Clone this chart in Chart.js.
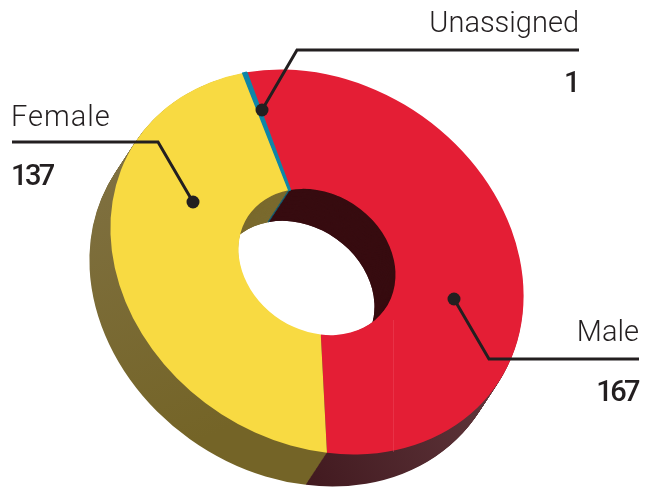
<!DOCTYPE html>
<html>
<head>
<meta charset="utf-8">
<title>Gender split</title>
<script src="https://cdn.jsdelivr.net/npm/chart.js"></script>
<style>
  html, body { margin: 0; padding: 0; background: #fff; }
  #wrap { position: relative; width: 657px; height: 487px; overflow: hidden; }
  canvas { position: absolute; left: 0; top: 0; }
  .lbl, .num { position: absolute; color: #231f20; font-family: Roboto, sans-serif; white-space: nowrap; line-height: 1; }
  .lbl { font-size: 29px; font-weight: 300; }
  .num { font-size: 29px; font-weight: 500; letter-spacing: -2.6px; }
</style>
</head>
<body>
<div id="wrap">
  <canvas id="donut" width="657" height="487"></canvas>
  <div class="lbl" style="right:78px;top:8px">Unassigned</div>
  <div class="num" style="right:79px;top:68px">1</div>
  <div class="lbl" style="left:11px;top:102px;letter-spacing:1px">Female</div>
  <div class="num" style="left:11px;top:161px">137</div>
  <div class="lbl" style="right:18px;top:317px">Male</div>
  <div class="num" style="right:19px;top:377px">167</div>
</div>
<script>
const labels = ['Male', 'Female', 'Unassigned'];
const values = [167, 137, 1];
const faceColors = ['#e41e35', '#f8da42', '#0f86a8'];
const outerWall = ['red', '#76662b', '#76662b'];
const innerWall = ['#370c10', '#7a6a2e', '#0f5f78'];

// top face is a tilted ellipse, depth goes down and to the left
const FACE = { x: 317, y: 262, a: 217.7, b: 179.8, tilt: 34 * Math.PI / 180 };
const DEPTH = { x: -21, y: 32, steps: 40 };

function applyFace(ctx, arc, dx, dy) {
  ctx.translate(FACE.x + dx, FACE.y + dy);
  ctx.rotate(FACE.tilt);
  ctx.scale(FACE.a / arc.outerRadius, FACE.b / arc.outerRadius);
  ctx.translate(-arc.x, -arc.y);
}

function sectorPath(ctx, arc) {
  ctx.beginPath();
  ctx.arc(arc.x, arc.y, arc.outerRadius, arc.startAngle, arc.endAngle);
  ctx.arc(arc.x, arc.y, arc.innerRadius, arc.endAngle, arc.startAngle, true);
  ctx.closePath();
}

const tiltPlugin = {
  id: 'tilt',
  beforeDatasetsDraw(chart) {
    const ctx = chart.ctx;
    const arcs = chart.getDatasetMeta(0).data;
    const dpr = chart.currentDevicePixelRatio;

    const redSide = ctx.createLinearGradient(310, 480, 490, 400);
    redSide.addColorStop(0, '#421a20');
    redSide.addColorStop(1, '#5e353a');
    const olive = ctx.createLinearGradient(90, 180, 200, 440);
    olive.addColorStop(0, '#7f7040');
    olive.addColorStop(1, '#746427');

    const paintLayers = (colors) => {
      for (let k = DEPTH.steps; k >= 1; k--) {
        const t = k / DEPTH.steps;
        arcs.forEach((arc, i) => {
          ctx.save();
          applyFace(ctx, arc, DEPTH.x * t, DEPTH.y * t);
          sectorPath(ctx, arc);
          ctx.setTransform(dpr, 0, 0, dpr, 0, 0);
          const c = colors[i];
          ctx.fillStyle = c === 'red' ? redSide : (i === 1 && colors === outerWall ? olive : c);
          ctx.fill();
          ctx.restore();
        });
      }
    };

    // outside wall
    paintLayers(outerWall);

    // wall seen through the hole, so cut it to the top opening
    ctx.save();
    applyFace(ctx, arcs[0], 0, 0);
    ctx.beginPath();
    ctx.arc(arcs[0].x, arcs[0].y, arcs[0].innerRadius, 0, Math.PI * 2);
    ctx.setTransform(dpr, 0, 0, dpr, 0, 0);
    ctx.clip();
    paintLayers(innerWall);
    ctx.restore();

    // the face itself is drawn by the chart under this transform
    ctx.save();
    applyFace(ctx, arcs[0], 0, 0);
  },
  afterDatasetsDraw(chart) {
    chart.ctx.restore();
  },
  afterDraw(chart) {
    const ctx = chart.ctx;
    const leaders = [
      [[579, 50], [297, 50], [262, 110]],
      [[12, 142], [158, 142], [193, 202]],
      [[639, 359], [489, 359], [454, 299]]
    ];
    ctx.save();
    // faint seam in the artwork
    ctx.strokeStyle = 'rgba(240,90,105,0.35)';
    ctx.lineWidth = 1;
    ctx.beginPath();
    ctx.moveTo(393.5, 320);
    ctx.lineTo(393.5, 452);
    ctx.stroke();

    ctx.strokeStyle = ctx.fillStyle = '#231f20';
    ctx.lineWidth = 3;
    ctx.lineJoin = 'miter';
    leaders.forEach(pts => {
      ctx.beginPath();
      pts.forEach((p, i) => i ? ctx.lineTo(p[0], p[1]) : ctx.moveTo(p[0], p[1]));
      ctx.stroke();
      const end = pts[pts.length - 1];
      ctx.beginPath();
      ctx.arc(end[0], end[1], 6.5, 0, Math.PI * 2);
      ctx.fill();
    });
    ctx.restore();
  }
};

new Chart(document.getElementById('donut'), {
  type: 'doughnut',
  data: {
    labels,
    datasets: [{
      data: values,
      backgroundColor: faceColors,
      borderColor: faceColors,
      borderWidth: [0, 0, 2],
      borderJoinStyle: 'bevel',
      hoverOffset: 0,
      clip: false
    }]
  },
  options: {
    responsive: false,
    animation: false,
    rotation: 311,
    cutout: '38%',
    layout: { padding: 0 },
    events: [],
    plugins: { legend: { display: false }, tooltip: { enabled: false } }
  },
  plugins: [tiltPlugin]
});
</script>
</body>
</html>
